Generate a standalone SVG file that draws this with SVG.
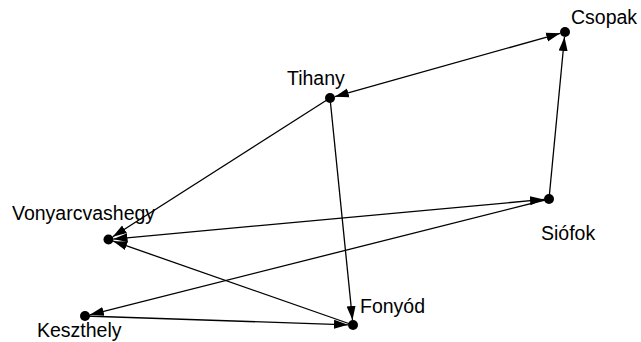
<svg xmlns="http://www.w3.org/2000/svg" width="641" height="342" viewBox="0 0 641 342">
<style>
.e{stroke:#000;stroke-width:1.3;fill:none}
.n{fill:#000}
.t{font-family:"Liberation Sans",Arial,sans-serif;font-size:19.5px;fill:#000}
</style>
<defs>
<marker id="a" markerUnits="userSpaceOnUse" markerWidth="16" markerHeight="12" refX="14" refY="5" orient="auto-start-reverse" viewBox="0 0 16 10">
<path d="M0,0.5 L14,5 L0,9.5 Z" fill="#000"/>
</marker>
</defs>
<rect width="641" height="342" fill="#fff"/>
<g id="edges">
<line class="e" x1="334.8" y1="96.65" x2="560.2" y2="33.35" marker-start="url(#a)" marker-end="url(#a)"/>
<line class="e" x1="549" y1="199" x2="564.5" y2="37" marker-end="url(#a)"/>
<line class="e" x1="330" y1="98" x2="112.7" y2="236.8" marker-end="url(#a)"/>
<line class="e" x1="330" y1="98" x2="352.5" y2="320" marker-end="url(#a)"/>
<line class="e" x1="113.5" y1="239.04" x2="544" y2="199.46" marker-start="url(#a)" marker-end="url(#a)"/>
<line class="e" x1="549" y1="199" x2="89.85" y2="314.78" marker-end="url(#a)"/>
<line class="e" x1="353" y1="325" x2="113.2" y2="241.15" marker-end="url(#a)"/>
<line class="e" x1="85" y1="316" x2="348" y2="324.83" marker-end="url(#a)"/>
</g>
<g id="Csopak"><circle class="n" cx="565" cy="32" r="5"/><text class="t" x="571" y="24">Csopak</text></g>
<g id="Tihany"><circle class="n" cx="330" cy="98" r="5"/><text class="t" x="287" y="85">Tihany</text></g>
<g id="Vonyarcvashegy"><circle class="n" cx="108.5" cy="239.5" r="5"/><text class="t" x="12" y="220">Vonyarcvashegy</text></g>
<g id="Siofok"><circle class="n" cx="549" cy="199" r="5"/><text class="t" x="541" y="240">Siófok</text></g>
<g id="Keszthely"><circle class="n" cx="85" cy="316" r="5"/><text class="t" x="37" y="337">Keszthely</text></g>
<g id="Fonyod"><circle class="n" cx="353" cy="325" r="5"/><text class="t" x="360" y="313">Fonyód</text></g>
</svg>
